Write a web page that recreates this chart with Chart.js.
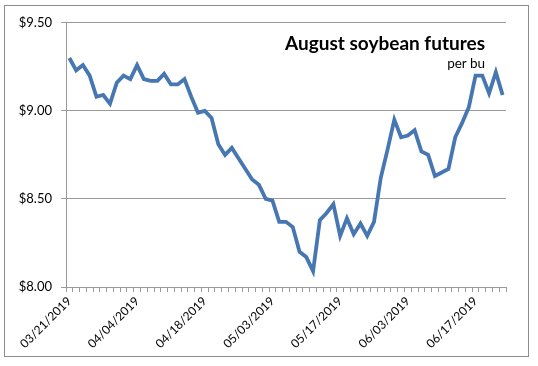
<!DOCTYPE html>
<html>
<head>
<meta charset="utf-8">
<script src="https://cdn.jsdelivr.net/npm/chart.js@4/dist/chart.umd.min.js"></script>
<style>
  body { margin: 0; background: #fff; width: 538px; height: 366px; position: relative; font-family: Lato, "Open Sans", sans-serif; }
  #box { position: absolute; left: 4px; top: 5px; width: 523px; height: 350px; border: 1px solid #8c8c8c; }
  #title { position: absolute; right: 53px; top: 32px; font: bold 19px Lato, sans-serif; line-height: 22px; color: #000; }
  #unit { position: absolute; right: 53px; top: 55px; font: 13.5px Lato, sans-serif; line-height: 16px; color: #000; }
</style>
</head>
<body>
<div id="box"><canvas id="myChart" width="523" height="350"></canvas></div>
<div id="title">August soybean futures</div>
<div id="unit">per bu</div>
<script>
// trading days, 03/21/2019 .. 06/21/2019
const dates = [
  '03/21/2019', '03/22/2019', '03/25/2019', '03/26/2019', '03/27/2019', '03/28/2019', '03/29/2019',
  '04/01/2019', '04/02/2019', '04/03/2019', '04/04/2019', '04/05/2019', '04/08/2019', '04/09/2019',
  '04/10/2019', '04/11/2019', '04/12/2019', '04/15/2019', '04/16/2019', '04/17/2019', '04/18/2019',
  '04/22/2019', '04/23/2019', '04/24/2019', '04/25/2019', '04/26/2019', '04/29/2019', '04/30/2019',
  '05/01/2019', '05/02/2019', '05/03/2019', '05/06/2019', '05/07/2019', '05/08/2019', '05/09/2019',
  '05/10/2019', '05/13/2019', '05/14/2019', '05/15/2019', '05/16/2019', '05/17/2019', '05/20/2019',
  '05/21/2019', '05/22/2019', '05/23/2019', '05/24/2019', '05/28/2019', '05/29/2019', '05/30/2019',
  '05/31/2019', '06/03/2019', '06/04/2019', '06/05/2019', '06/06/2019', '06/07/2019', '06/10/2019',
  '06/11/2019', '06/12/2019', '06/13/2019', '06/14/2019', '06/17/2019', '06/18/2019', '06/19/2019',
  '06/20/2019', '06/21/2019'
];

const prices = [
  9.30, 9.23, 9.26, 9.20, 9.08, 9.09, 9.04,
  9.16, 9.20, 9.18, 9.26, 9.18, 9.17, 9.17,
  9.21, 9.15, 9.15, 9.18, 9.08, 8.99, 9.00,
  8.96, 8.81, 8.75, 8.79, 8.73, 8.67, 8.61,
  8.58, 8.50, 8.49, 8.37, 8.37, 8.34, 8.20,
  8.17, 8.09, 8.38, 8.42, 8.47, 8.29, 8.39,
  8.30, 8.36, 8.29, 8.37, 8.62, 8.78, 8.95,
  8.85, 8.86, 8.89, 8.77, 8.75, 8.63, 8.65,
  8.67, 8.85, 8.93, 9.02, 9.20, 9.20, 9.10,
  9.22, 9.09
];

const yTicks = [8.0, 8.5, 9.0, 9.5];
const labelEvery = 10;

const gray = '#9a9a9a';

const ctx = document.getElementById('myChart').getContext('2d');
new Chart(ctx, {
  type: 'line',
  data: {
    labels: dates,
    datasets: [
      {
        label: 'August soybean futures',
        data: prices,
        borderColor: '#4677b3',
        borderWidth: 3.8,
        pointRadius: 0,
        tension: 0,
        fill: false,
      },
    ],
  },
  options: {
    responsive: false,
    animation: false,
    layout: { padding: { top: 15, right: 22, left: 0, bottom: 0 } },
    plugins: {
      legend: { display: false },
      tooltip: { enabled: false },
    },
    scales: {
      x: {
        offset: true,
        grid: { offset: true, drawOnChartArea: false, drawTicks: true, tickLength: 5, color: gray },
        border: { color: gray, width: 1 },
        ticks: {
          autoSkip: false,
          maxRotation: 45,
          minRotation: 45,
          padding: 2,
          color: '#000',
          font: { family: 'Lato', size: 12 },
          callback: (v, i) => (i % labelEvery === 0 ? dates[i] : ''),
        },
        afterFit: (scale) => { scale.height = 69; },
      },
      y: {
        min: yTicks[0],
        max: yTicks[yTicks.length - 1],
        afterBuildTicks: (scale) => { scale.ticks = yTicks.map((v) => ({ value: v })); },
        grid: { color: gray, tickLength: 5 },
        border: { color: gray, width: 1 },
        ticks: {
          padding: 9,
          color: '#000',
          font: { family: 'Lato', size: 13 },
          callback: (v) => '$' + Number(v).toFixed(2),
        },
        afterFit: (scale) => { scale.width = 61; },
      },
    },
  },
});
</script>
</body>
</html>
